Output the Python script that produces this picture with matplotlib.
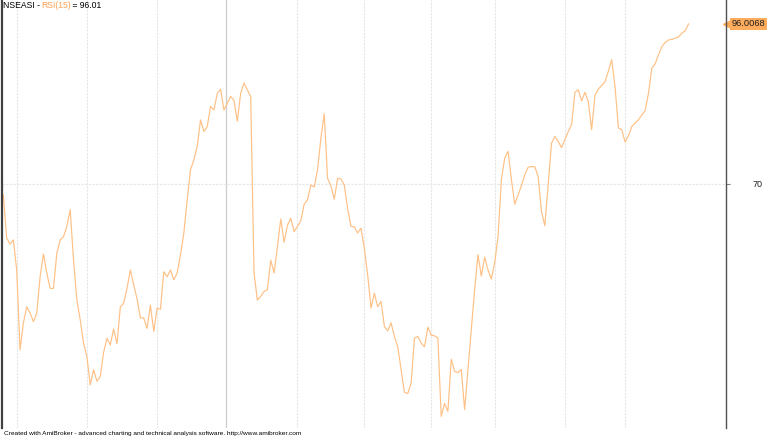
#RSI(15) of NSEASI, AmiBroker style
import matplotlib.pyplot as plt
import matplotlib.transforms as mtransforms
import numpy as np

plt.rcParams['font.family'] = ['Liberation Sans', 'DejaVu Sans']

# RSI values, one per bar
rsi = [68.2, 61.2, 60.2, 60.9, 56.0, 43.0, 47.4, 50.0, 49.0, 47.6,
       49.0, 54.9, 58.6, 55.5, 53.0, 53.0, 58.7, 60.9, 61.4, 63.1,
       65.8, 57.6, 51.1, 47.9, 44.1, 41.9, 37.3, 39.8, 37.9, 38.7,
       42.6, 44.9, 43.8, 46.4, 44.0, 50.0, 50.6, 53.0, 56.0, 53.6,
       51.3, 48.2, 48.2, 46.5, 50.3, 46.0, 49.8, 49.6, 55.7, 54.9,
       56.0, 54.4, 55.5, 58.5, 62.0, 67.4, 72.3, 73.9, 76.1, 80.4,
       78.5, 79.3, 82.6, 82.0, 84.7, 85.4, 82.0, 83.1, 84.2, 83.6,
       80.2, 84.7, 86.4, 85.3, 84.2, 55.5, 51.1, 51.7, 52.5, 52.8,
       57.6, 55.5, 59.8, 64.3, 60.5, 63.3, 64.4, 62.2, 63.1, 64.0,
       66.7, 67.4, 69.8, 69.5, 72.3, 77.4, 81.4, 70.9, 69.7, 67.5,
       70.9, 70.8, 69.8, 66.0, 63.1, 63.0, 62.0, 62.8, 59.5, 55.2,
       49.8, 52.2, 50.0, 50.9, 46.8, 46.1, 47.4, 45.2, 43.5, 39.8,
       36.1, 35.9, 37.6, 44.9, 45.2, 44.1, 43.5, 46.7, 45.4, 45.3,
       44.9, 32.2, 34.3, 33.0, 41.5, 39.5, 39.3, 39.8, 33.3, 39.8,
       46.3, 52.8, 58.5, 55.0, 58.1, 56.0, 54.5, 57.2, 61.4, 70.7,
       74.2, 75.3, 70.7, 66.7, 68.2, 69.7, 71.5, 72.7, 72.8, 72.8,
       71.2, 65.5, 63.2, 69.8, 76.6, 77.7, 76.9, 75.9, 77.2, 78.5,
       79.6, 84.9, 85.3, 83.5, 84.9, 83.4, 78.8, 84.4, 85.4, 86.0,
       86.6, 88.3, 90.2, 85.8, 79.1, 78.8, 76.8, 77.8, 79.3, 79.9,
       80.4, 81.2, 81.9, 84.7, 88.8, 89.5, 91.0, 92.3, 93.0, 93.4,
       93.5, 93.7, 93.9, 94.5, 94.9, 96.0068]

# month-start bars (the solid one is the new year)
month_bars = [4, 25, 46, 88, 108, 128, 147, 168, 186]
year_bar = 66.5

ticker = "NSEASI"
ind_name = "RSI(15)"
level = 70

line_col = '#ffc085'
tag_col = '#ffad5c'

fig = plt.figure(figsize=(7.68, 4.37), dpi=100)
ax = fig.add_axes([2 / 768, 9 / 437, 724 / 768, 428 / 437])

x = np.arange(len(rsi))
ax.plot(x, rsi, color=line_col, lw=0.85)

ax.set_xlim(-0.4, 216.2)
ax.set_ylim(30.3, 99.9)

for b in month_bars:
    ax.axvline(b, color='#e6e6e6', lw=0.8, ls=(0, (2, 1)), zorder=0)
ax.axvline(year_bar, color='#cccccc', lw=0.9, zorder=0)
ax.axhline(level, color='#e8e8e8', lw=0.9, ls=(0, (2, 1)), zorder=0)

for s in ['top', 'bottom']:
    ax.spines[s].set_visible(False)
ax.spines['left'].set_color('#404040')
ax.spines['left'].set_linewidth(1.6)
ax.spines['right'].set_color('#505050')
ax.spines['right'].set_linewidth(1.0)

ax.set_xticks([])
ax.set_yticks([level])
ax.set_yticklabels([str(level)])
ax.tick_params(axis='y', left=False, labelleft=False, right=True, labelright=True,
               length=3, width=0.8, color='#808080', pad=23.5, labelsize=6.5,
               labelcolor='#202020')
for t in ax.get_yticklabels():
    t.set_horizontalalignment('right')

# last value tag on the right axis
blend = mtransforms.blended_transform_factory(ax.transAxes, ax.transData)
last = rsi[-1]
ax.plot([1.0025], [last], marker='<', ms=7, color=tag_col, transform=blend, clip_on=False)
ax.text(1.0075, last, "%.4f" % last, transform=blend, ha='left', va='center',
        fontsize=6.7, color='#202020', clip_on=False,
        bbox=dict(boxstyle='square,pad=0.2', fc=tag_col, ec='none'))

# title in three colours
fig.canvas.draw()
r = fig.canvas.get_renderer()
tx = 3
for s, c in [(ticker + " - ", '#000000'), (ind_name, '#ffa050'), (" = %.2f" % last, '#000000')]:
    t = fig.text(tx / 768, 1 - 6 / 437, s, color=c, fontsize=6.2, va='center', ha='left')
    tx += t.get_window_extent(r).width - 1

fig.text(4 / 768, 4 / 437, "Created with AmiBroker - advanced charting and technical analysis software. http://www.amibroker.com",
         fontsize=4.65, va='center', ha='left', color='#000000')

fig.savefig('out.png', dpi=100)
